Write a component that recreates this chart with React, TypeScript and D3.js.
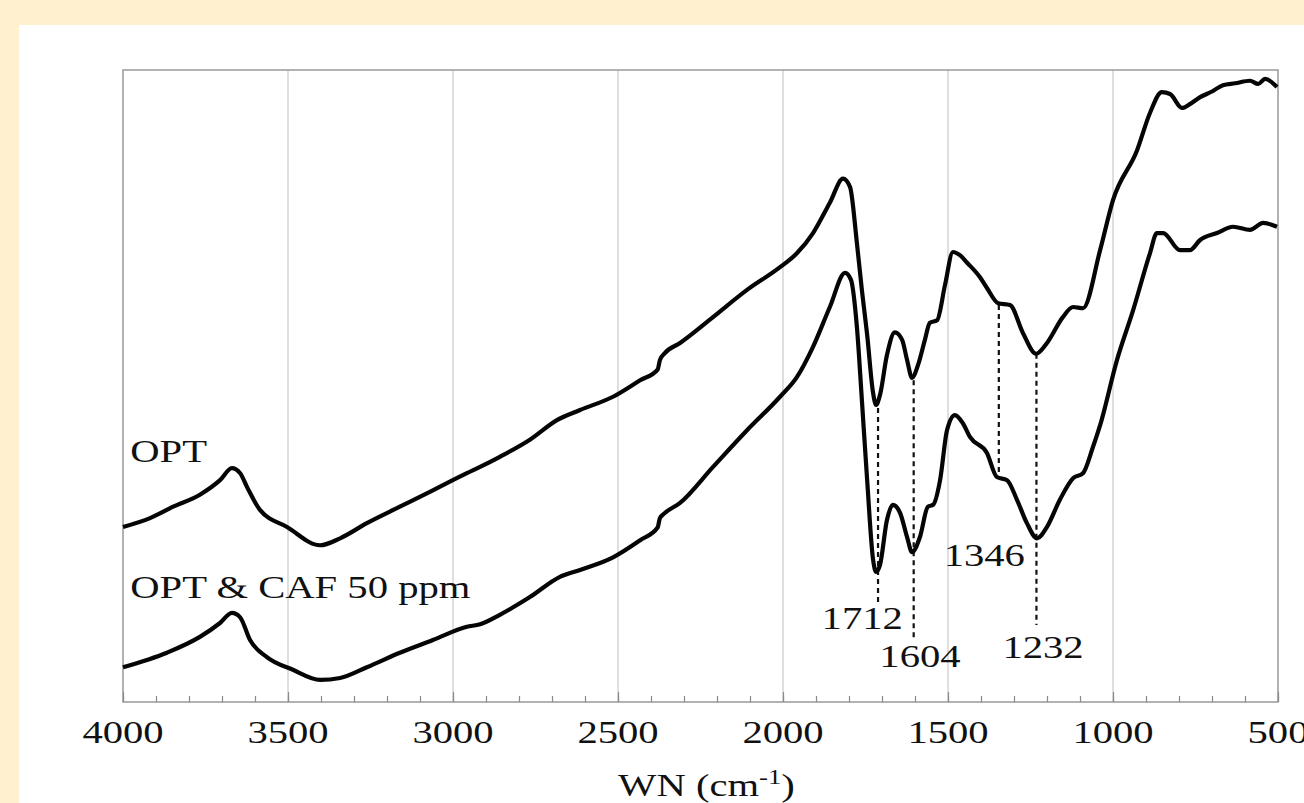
import React, { useEffect, useRef } from 'react';
import * as d3 from 'd3';

// frame of the photographed figure
const width = 1304, height = 803;
const plot = { left: 123, right: 1278, top: 70, bottom: 702 };
const stretch = 1.27; // the source figure is a bit wider than tall
const serif = '"Liberation Serif", "Times New Roman", "DejaVu Serif", serif';

// OPT spectrum (wavenumber, transmittance in arbitrary %)
const optWn = [4000, 3918, 3848, 3767, 3706, 3670, 3645, 3624, 3585, 3503, 3403, 3342, 3261, 3161, 3061,
    2958, 2918, 2858, 2767, 2685, 2615, 2515, 2433, 2380, 2373, 2358, 2312, 2212, 2109, 2009, 1958, 1909,
    1858, 1818, 1797, 1776, 1761, 1745, 1727, 1718, 1706, 1685, 1661, 1639, 1624, 1609, 1591, 1570, 1555,
    1533, 1509, 1485, 1464, 1442, 1403, 1382, 1348, 1312, 1273, 1233, 1200, 1152, 1121, 1091, 1039, 1000,
    927, 888, 852, 827, 791, 767, 736, 700, 667, 630, 585, 560, 539, 503];
const optT = [27.7, 29.1, 30.9, 32.8, 35.1, 37.0, 36.2, 34.0, 30.4, 27.7, 24.8, 25.9, 28.3, 30.9, 33.5,
    36.2, 37.2, 38.8, 41.5, 44.6, 46.2, 48.3, 50.9, 52.6, 54.1, 55.2, 56.8, 60.9, 65.2, 68.8, 71.0, 74.2,
    79.0, 82.8, 81.5, 72.6, 65.2, 58.1, 48.9, 47.0, 48.6, 54.9, 58.5, 57.3, 54.1, 51.3, 53.3, 57.3, 60.0,
    60.4, 66.0, 71.2, 70.7, 69.5, 67.2, 65.5, 63.1, 62.8, 58.4, 55.1, 56.8, 60.9, 62.5, 62.3, 71.5, 79.4,
    87.3, 93.2, 96.5, 96.2, 94.0, 94.6, 95.7, 96.6, 97.6, 97.9, 98.3, 97.8, 98.6, 97.3];

// OPT & CAF 50 ppm spectrum
const cafWn = [4000, 3867, 3767, 3706, 3670, 3645, 3615, 3564, 3485, 3403, 3342, 3261, 3161, 3061, 2958,
    2918, 2858, 2767, 2676, 2615, 2515, 2433, 2380, 2373, 2358, 2312, 2212, 2109, 2009, 1958, 1909, 1858,
    1812, 1794, 1776, 1761, 1745, 1727, 1718, 1706, 1685, 1667, 1645, 1624, 1609, 1585, 1561, 1545, 1524,
    1503, 1479, 1455, 1433, 1382, 1352, 1321, 1291, 1261, 1230, 1200, 1161, 1121, 1091, 1061, 1039, 988,
    939, 888, 867, 848, 797, 767, 736, 685, 636, 585, 545, 503];
const cafT = [5.5, 7.8, 10.3, 12.5, 14.1, 13.4, 9.8, 7.1, 5.1, 3.5, 3.8, 5.5, 7.8, 9.8, 11.9,
    12.3, 13.8, 16.6, 19.8, 20.9, 22.9, 25.6, 27.6, 29.1, 29.9, 31.5, 37.2, 43.0, 48.3, 51.4, 56.2, 62.5,
    67.9, 66.8, 59.3, 47.8, 35.1, 22.5, 20.6, 21.7, 28.8, 31.2, 29.9, 26.1, 23.7, 26.1, 30.9, 31.2, 35.1,
    43.0, 45.4, 44.1, 41.9, 39.4, 35.6, 35.1, 32.0, 28.3, 25.9, 27.7, 32.0, 35.4, 36.2, 40.3, 43.8, 54.1,
    62.0, 71.0, 74.2, 74.2, 71.5, 71.5, 73.1, 74.2, 75.2, 74.7, 75.8, 75.2];

// marked bands: wavenumber, dashed line top/bottom (transmittance), label position
const bandWn = [1712, 1604, 1346, 1232];
const bandTop = [46.5, 50.9, 62.8, 55.1];
const bandBottom = [15.7, 9.8, 35.4, 12.2];
const bandLabelX = [1760, 1585, 1390, 1212];
const bandLabelT = [11.5, 5.5, 21.5, 7.0];

const seriesNames = ['OPT', 'OPT & CAF 50 ppm'];
const seriesLabelWn = [3978, 3978];
const seriesLabelT = [37.9, 16.5];

const majorTicks = [4000, 3500, 3000, 2500, 2000, 1500, 1000, 500];
const gridTicks = [3500, 3000, 2500, 2000, 1500, 1000];

const x = d3.scaleLinear().domain([4000, 500]).range([plot.left, plot.right]);
const y = d3.scaleLinear().domain([0, 100]).range([plot.bottom, plot.top]);

const line = d3.line<[number, number]>()
    .x(d => x(d[0]))
    .y(d => y(d[1]))
    .curve(d3.curveMonotoneX);

export default function App() {
    const axisRef = useRef<SVGGElement>(null);

    // minor and major ticks along the bottom, pointing inwards
    useEffect(() => {
        const g = d3.select(axisRef.current);
        g.selectAll('*').remove();
        g.append('g').call(d3.axisBottom(x).tickValues(d3.range(500, 4001, 100)).tickSize(-6).tickFormat(() => ''));
        g.append('g').call(d3.axisBottom(x).tickValues(majorTicks).tickSize(-10).tickFormat(() => ''));
        g.selectAll('.domain').remove();
        g.selectAll('line').attr('stroke', '#8a8a8a').attr('stroke-width', 1.2);
    }, []);

    const opt = d3.zip(optWn, optT) as [number, number][];
    const caf = d3.zip(cafWn, cafT) as [number, number][];

    const stretched = (px: number, py: number) => `translate(${px},${py}) scale(${stretch},1)`;

    return (
        <svg width={width} height={height} style={{ position: 'absolute', left: 0, top: 0 }}
            fontFamily={serif} fill="#111">
            <rect x={0} y={0} width={width} height={height} fill="#fff1cf" />
            <rect x={19} y={25} width={width - 19} height={height - 25} fill="#fff" />

            {gridTicks.map(t => (
                <line key={t} x1={x(t)} x2={x(t)} y1={plot.top} y2={plot.bottom} stroke="#d4d4d4" strokeWidth={1.5} />
            ))}
            <rect x={plot.left} y={plot.top} width={plot.right - plot.left} height={plot.bottom - plot.top}
                fill="none" stroke="#999" strokeWidth={1.5} />
            <g ref={axisRef} transform={`translate(0,${plot.bottom})`} />

            {bandWn.map((w, i) => (
                <line key={w} x1={x(w)} x2={x(w)} y1={y(bandTop[i])} y2={y(bandBottom[i])}
                    stroke="#111" strokeWidth={2.2} strokeDasharray="5,4" />
            ))}

            <path d={line(opt) ?? ''} fill="none" stroke="#050505" strokeWidth={4.2} strokeLinejoin="round" />
            <path d={line(caf) ?? ''} fill="none" stroke="#050505" strokeWidth={4.2} strokeLinejoin="round" />

            {bandWn.map((w, i) => (
                <text key={w} transform={stretched(x(bandLabelX[i]), y(bandLabelT[i]))} textAnchor="middle" fontSize={32}>{w}</text>
            ))}

            {seriesNames.map((n, i) => (
                <text key={n} transform={stretched(x(seriesLabelWn[i]), y(seriesLabelT[i]))} fontSize={32}>{n}</text>
            ))}

            {majorTicks.map(t => (
                <text key={t} transform={stretched(x(t), 743)} textAnchor="middle" fontSize={32}>{t}</text>
            ))}

            <text transform={stretched((plot.left + plot.right) / 2 + 6, 796)} textAnchor="middle" fontSize={32}>
                WN (cm<tspan fontSize={21} dy={-12}>-1</tspan><tspan dy={12}>)</tspan>
            </text>
        </svg>
    );
}
